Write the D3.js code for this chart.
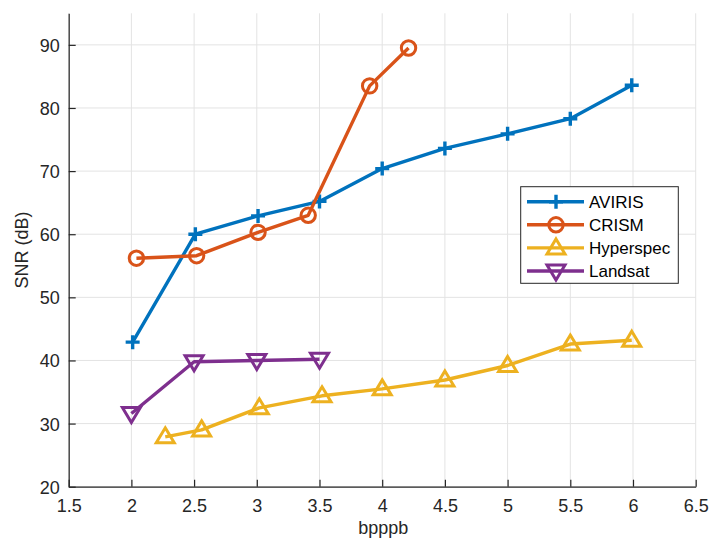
<!DOCTYPE html>
<html>
<head>
<meta charset="utf-8">
<script src="https://cdn.jsdelivr.net/npm/d3@7"></script>
<style>
  body { margin: 0; background: #fff; }
  text { font-family: "Liberation Sans", Arial, sans-serif; }
</style>
</head>
<body>
<div id="chart"></div>
<script>
// data
const seriesNames = ["AVIRIS", "CRISM", "Hyperspec", "Landsat"];
const colors = ["#0072BD", "#D95319", "#EDB120", "#7E2F8E"];
const markers = ["plus", "circle", "triUp", "triDown"];

const avirisX = [2.01, 2.51, 3.01, 3.5, 4.0, 4.5, 5.0, 5.5, 5.99];
const avirisY = [42.9, 60.0, 62.9, 65.2, 70.4, 73.6, 75.9, 78.3, 83.6];
const crismX = [2.04, 2.52, 3.01, 3.41, 3.9, 4.21];
const crismY = [56.2, 56.6, 60.3, 63.0, 83.5, 89.5];
const hyperX = [2.27, 2.56, 3.02, 3.52, 4.0, 4.5, 5.0, 5.5, 5.99];
const hyperY = [27.9, 29.0, 32.5, 34.4, 35.5, 36.9, 39.2, 42.6, 43.2];
const landsatX = [2.0, 2.5, 3.0, 3.5];
const landsatY = [31.6, 39.8, 40.0, 40.2];

const xTicks = [1.5, 2, 2.5, 3, 3.5, 4, 4.5, 5, 5.5, 6, 6.5];
const yTicks = [20, 30, 40, 50, 60, 70, 80, 90];

const allX = [avirisX, crismX, hyperX, landsatX];
const allY = [avirisY, crismY, hyperY, landsatY];

const width = 710, height = 541;
const margin = {left: 68.7, right: 14.3, top: 13.3, bottom: 54.3};

const svg = d3.select("#chart")
  .append("svg")
  .attr("width", width)
  .attr("height", height);

const x = d3.scaleLinear()
  .domain([1.5, 6.5])
  .range([margin.left, width - margin.right]);
const y = d3.scaleLinear()
  .domain([20, 95])
  .range([height - margin.bottom, margin.top]);

const axisColor = "#262626";

// grid
svg.append("g")
  .selectAll("line")
  .data(xTicks)
  .join("line")
  .attr("x1", d => x(d)).attr("x2", d => x(d))
  .attr("y1", y(95)).attr("y2", y(20))
  .attr("stroke", "#e3e3e3").attr("stroke-width", 1);
svg.append("g")
  .selectAll("line")
  .data(yTicks)
  .join("line")
  .attr("x1", x(1.5)).attr("x2", x(6.5))
  .attr("y1", d => y(d)).attr("y2", d => y(d))
  .attr("stroke", "#e3e3e3").attr("stroke-width", 1);

// axes
const xAxis = svg.append("g")
  .attr("transform", `translate(0,${y(20)})`)
  .call(d3.axisBottom(x).tickValues(xTicks).tickFormat(d3.format("")).tickSizeInner(-7).tickSizeOuter(0));
const yAxis = svg.append("g")
  .attr("transform", `translate(${x(1.5)},0)`)
  .call(d3.axisLeft(y).tickValues(yTicks).tickSizeInner(-7).tickSizeOuter(0).tickPadding(9));

[xAxis, yAxis].forEach(a => {
  a.select(".domain").attr("stroke", axisColor).attr("stroke-width", 1.2);
  a.selectAll(".tick line").attr("stroke", axisColor).attr("stroke-width", 1.2);
  a.selectAll(".tick text")
    .attr("fill", axisColor)
    .style("font-size", "18px")
    .style("font-family", "'Liberation Sans', Arial, sans-serif");
});
xAxis.selectAll(".tick text").attr("y", 13).attr("dy", "0.71em");
yAxis.selectAll(".tick text").attr("dy", "0.36em");

svg.append("text")
  .attr("x", (x(1.5) + x(6.5)) / 2 + 1)
  .attr("y", 534)
  .attr("text-anchor", "middle")
  .attr("fill", axisColor)
  .style("font-size", "18px")
  .text("bpppb");

svg.append("text")
  .attr("transform", `translate(28,${(y(20) + y(95)) / 2}) rotate(-90)`)
  .attr("text-anchor", "middle")
  .attr("fill", axisColor)
  .style("font-size", "18px")
  .text("SNR (dB)");

// markers
function drawMarker(g, type, color) {
  if (type === "plus") {
    g.append("path").attr("d", "M-7,0H7M0,-7V7")
      .attr("stroke", color).attr("stroke-width", 3.4).attr("fill", "none");
  } else if (type === "circle") {
    g.append("circle").attr("r", 7.2)
      .attr("stroke", color).attr("stroke-width", 3).attr("fill", "none");
  } else if (type === "triUp") {
    g.append("path").attr("d", "M0,-9L9,6L-9,6Z")
      .attr("stroke", color).attr("stroke-width", 3).attr("fill", "none");
  } else {
    g.append("path").attr("d", "M0,9L9,-6L-9,-6Z")
      .attr("stroke", color).attr("stroke-width", 3).attr("fill", "none");
  }
}

const line = d3.line().x(d => x(d[0])).y(d => y(d[1]));

seriesNames.forEach((name, i) => {
  const pts = allX[i].map((v, j) => [v, allY[i][j]]);
  const g = svg.append("g");
  g.append("path")
    .datum(pts)
    .attr("d", line)
    .attr("fill", "none")
    .attr("stroke", colors[i])
    .attr("stroke-width", 3.4)
    .attr("stroke-linejoin", "round");
  g.selectAll("g.m")
    .data(pts)
    .join("g")
    .attr("class", "m")
    .attr("transform", d => `translate(${x(d[0])},${y(d[1])})`)
    .each(function () { drawMarker(d3.select(this), markers[i], colors[i]); });
});

// legend
const legend = svg.append("g").attr("transform", "translate(520.7,186.7)");
legend.append("rect")
  .attr("width", 157.6).attr("height", 96.6)
  .attr("fill", "#fff").attr("stroke", axisColor).attr("stroke-width", 1);
seriesNames.forEach((name, i) => {
  const cy = 15 + i * 23.1;
  const row = legend.append("g").attr("transform", `translate(0,${cy})`);
  row.append("line")
    .attr("x1", 6.3).attr("x2", 63.3)
    .attr("stroke", colors[i]).attr("stroke-width", 3.4);
  const m = row.append("g").attr("transform", "translate(35.3,0)");
  drawMarker(m, markers[i], colors[i]);
  row.append("text")
    .attr("x", 68.3).attr("y", 0).attr("dy", "0.36em")
    .attr("fill", "#000")
    .style("font-size", "17px")
    .text(name);
});
</script>
</body>
</html>
